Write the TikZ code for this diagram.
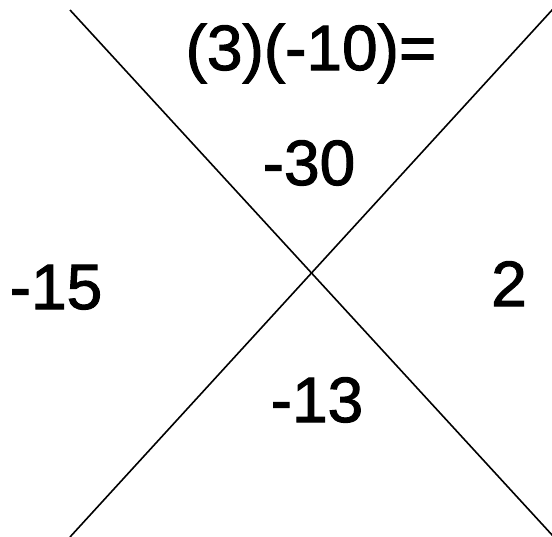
\documentclass[tikz,border=0pt]{standalone}
\usepackage{fontspec}
\setmainfont{Liberation Sans}[FakeBold=1.6]
\tikzset{
    numlabel/.style={anchor=base, inner sep=0pt, font=\fontsize{64}{74}\selectfont},
    crossline/.style={draw=black, line width=1.6pt}
}

\begin{document}
\begin{tikzpicture}[x=1pt, y=-1pt]

\useasboundingbox (0,0) rectangle (552,536);

% the two crossing lines
\coordinate (tl) at (70,10);
\coordinate (br) at (553,536);
\coordinate (tr) at (553,9);
\coordinate (bl) at (70,537);
\draw[crossline] (tl) -- (br);
\draw[crossline] (tr) -- (bl);

% numbers round the cross
\node[numlabel] (prod) at (311,70) {(3)(-10)=};
\node[numlabel] (top)  at (309,185) {-30};
\node[numlabel] (left) at (56,309) {-15};
\node[numlabel] (right) at (509,306) {2};
\node[numlabel] (bot)  at (317,422) {-13};

\end{tikzpicture}
\end{document}
